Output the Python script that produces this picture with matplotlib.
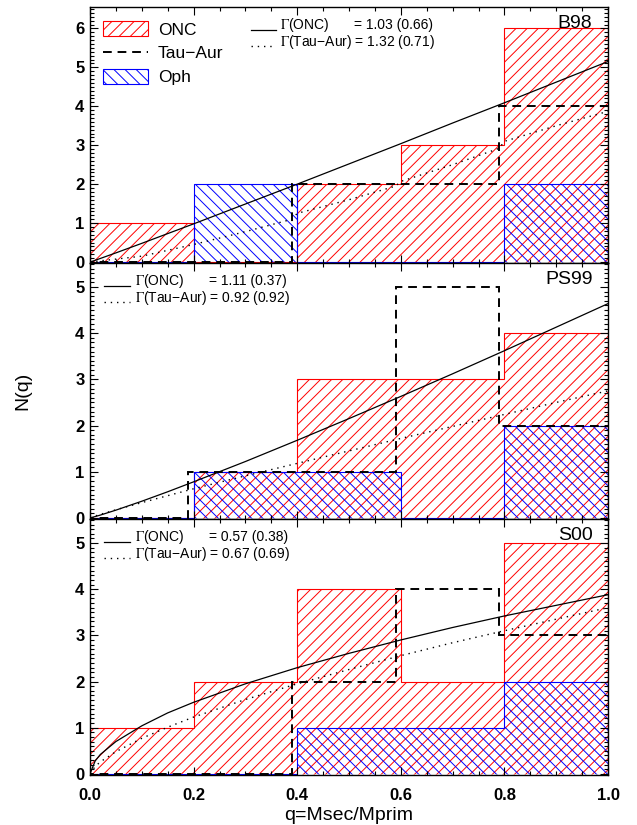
import matplotlib
matplotlib.use('Agg')
import matplotlib.pyplot as plt
from matplotlib.patches import Patch
from matplotlib.lines import Line2D
from matplotlib.ticker import MultipleLocator, FormatStrFormatter

plt.rcParams['font.family'] = ['Liberation Sans', 'DejaVu Sans']
plt.rcParams['mathtext.fontset'] = 'stix'
plt.rcParams['hatch.linewidth'] = 0.7

# histogram bins (Tau-Aur drawn shifted by -0.01)
q_edges = [0.0, 0.2, 0.4, 0.6, 0.8, 1.0]
tau_edges = [-0.01, 0.19, 0.39, 0.59, 0.79, 1.0]

# counts per bin
onc_b98 = [1, 0, 2, 3, 6]
oph_b98 = [0, 2, 0, 0, 2]
tau_b98 = [0, 0, 2, 2, 4]
onc_ps99 = [0, 1, 3, 3, 4]
oph_ps99 = [0, 1, 1, 0, 2]
tau_ps99 = [0, 1, 1, 5, 2]
onc_s00 = [1, 2, 4, 2, 5]
oph_s00 = [0, 0, 1, 1, 2]
tau_s00 = [0, 0, 2, 4, 3]

# fitted curves
q_fit = [0, 0.01, 0.02, 0.05, 0.1, 0.15, 0.2, 0.3, 0.4, 0.5, 0.6, 0.7, 0.8, 0.9, 1.0]
fit_onc_b98 = [0, 0.045, 0.092, 0.235, 0.48, 0.73, 0.98, 1.49, 2.00, 2.52, 3.04, 3.57, 4.09, 4.62, 5.15]
q_fit_tau_b98 = [0, 0.1, 0.2, 0.3, 0.39, 0.4, 0.5, 0.59, 0.6, 0.7, 0.79, 0.8, 0.9, 1.0]
fit_tau_b98 = [0, 0.15, 0.45, 0.78, 1.1, 1.25, 1.6, 1.95, 2.07, 2.5, 2.92, 3.1, 3.5, 3.87]
fit_onc_ps99 = [0, 0.028, 0.06, 0.167, 0.36, 0.565, 0.78, 1.22, 1.68, 2.15, 2.63, 3.12, 3.62, 4.13, 4.64]
fit_tau_ps99 = [0, 0.04, 0.075, 0.175, 0.33, 0.48, 0.63, 0.91, 1.18, 1.45, 1.72, 1.98, 2.24, 2.50, 2.75]
fit_onc_s00 = [0, 0.28, 0.42, 0.70, 1.04, 1.32, 1.55, 1.95, 2.30, 2.61, 2.90, 3.17, 3.42, 3.65, 3.88]
fit_tau_s00 = [0, 0.16, 0.26, 0.48, 0.77, 1.01, 1.23, 1.61, 1.95, 2.26, 2.56, 2.84, 3.10, 3.35, 3.60]

names = ['B98', 'PS99', 'S00']
gamma_onc = ['1.03 (0.66)', '1.11 (0.37)', '0.57 (0.38)']
gamma_tau = ['1.32 (0.71)', '0.92 (0.92)', '0.67 (0.69)']

panels = [
    (onc_b98, oph_b98, tau_b98, q_fit, fit_onc_b98, q_fit_tau_b98, fit_tau_b98, 6.55),
    (onc_ps99, oph_ps99, tau_ps99, q_fit, fit_onc_ps99, q_fit, fit_tau_ps99, 5.52),
    (onc_s00, oph_s00, tau_s00, q_fit, fit_onc_s00, q_fit, fit_tau_s00, 5.52),
]

dash = (0, (4.5, 3))
dots = (0, (1, 3.5))
red_hatch = '///'
blue_hatch = '\\\\\\'

W, H = 637, 825
fig = plt.figure(figsize=(W / 100, H / 100), dpi=100)
tops = [7, 263, 519]
axes = []
for i, top in enumerate(tops):
    ax = fig.add_axes([90 / W, 1 - (top + 256) / H, 518 / W, 256 / H])
    axes.append(ax)
    onc, oph, tau, qa, fa, qb, fb, ytop = panels[i]

    ax.stairs(onc, q_edges, baseline=0, fill=True, facecolor='none',
              edgecolor='red', hatch=red_hatch, lw=0.8)
    ax.stairs(oph, q_edges, baseline=0, fill=True, facecolor='none',
              edgecolor='blue', hatch=blue_hatch, lw=0.8)
    ax.stairs(tau, tau_edges, baseline=None, color='black', ls=dash, lw=1.4)
    ax.plot(qa, fa, color='black', lw=0.9)
    ax.plot(qb, fb, color='black', ls=dots, lw=1.0)

    ax.set_xlim(0, 1)
    ax.set_ylim(-0.025, ytop)
    ax.xaxis.set_major_locator(MultipleLocator(0.2))
    ax.xaxis.set_minor_locator(MultipleLocator(0.05))
    ax.yaxis.set_major_locator(MultipleLocator(1))
    ax.yaxis.set_minor_locator(MultipleLocator(0.1))
    ax.tick_params(which='both', direction='in', top=True, right=True, width=0.8)
    ax.tick_params(which='major', length=6, labelsize=12, pad=4)
    ax.tick_params(which='minor', length=3)
    for lab in ax.get_yticklabels():
        lab.set_fontweight('bold')
    for s in ax.spines.values():
        s.set_linewidth(1.0)

    # panel name
    ax.text(0.97, 0.935, names[i], transform=ax.transAxes, ha='right',
            va='center', fontsize=14)

    # fit labels
    if i == 0:
        x0, x1, xt, xv = 0.311, 0.36, 0.367, 0.51
    else:
        x0, x1, xt, xv = 0.027, 0.077, 0.087, 0.23
    ax.plot([x0, x1], [0.912, 0.912], transform=ax.transAxes, color='black', lw=0.9)
    ax.plot([x0, x1], [0.848, 0.848], transform=ax.transAxes, color='black', ls=dots, lw=1.0)
    ax.text(xt, 0.928, r'$\Gamma$(ONC)', transform=ax.transAxes, va='center', fontsize=10)
    ax.text(xv, 0.928, '= ' + gamma_onc[i], transform=ax.transAxes, va='center', fontsize=10)
    ax.text(xt, 0.862, r'$\Gamma$(Tau−Aur) = ' + gamma_tau[i], transform=ax.transAxes,
            va='center', fontsize=10)

    if i < 2:
        ax.tick_params(labelbottom=False)
    else:
        ax.xaxis.set_major_formatter(FormatStrFormatter('%.1f'))
        ax.tick_params(axis='x', pad=9)
        for lab in ax.get_xticklabels():
            lab.set_fontweight('bold')
        ax.set_xlabel('q=Msec/Mprim', fontsize=14, labelpad=3)

handles = [Patch(facecolor='none', edgecolor='red', hatch=red_hatch, lw=0.8),
           Line2D([], [], color='black', ls=dash, lw=1.4),
           Patch(facecolor='none', edgecolor='blue', hatch=blue_hatch, lw=0.8)]
axes[0].legend(handles, ['ONC', 'Tau−Aur', 'Oph'], loc='upper left',
               bbox_to_anchor=(0.025, 0.945), frameon=False, fontsize=12.5,
               handlelength=2.6, handleheight=0.95, handletextpad=0.55,
               labelspacing=0.42, borderpad=0, borderaxespad=0)

fig.text(23 / W, 1 - 391 / H, 'N(q)', rotation=90, ha='center', va='center', fontsize=14)

fig.savefig('out.png', dpi=100)
